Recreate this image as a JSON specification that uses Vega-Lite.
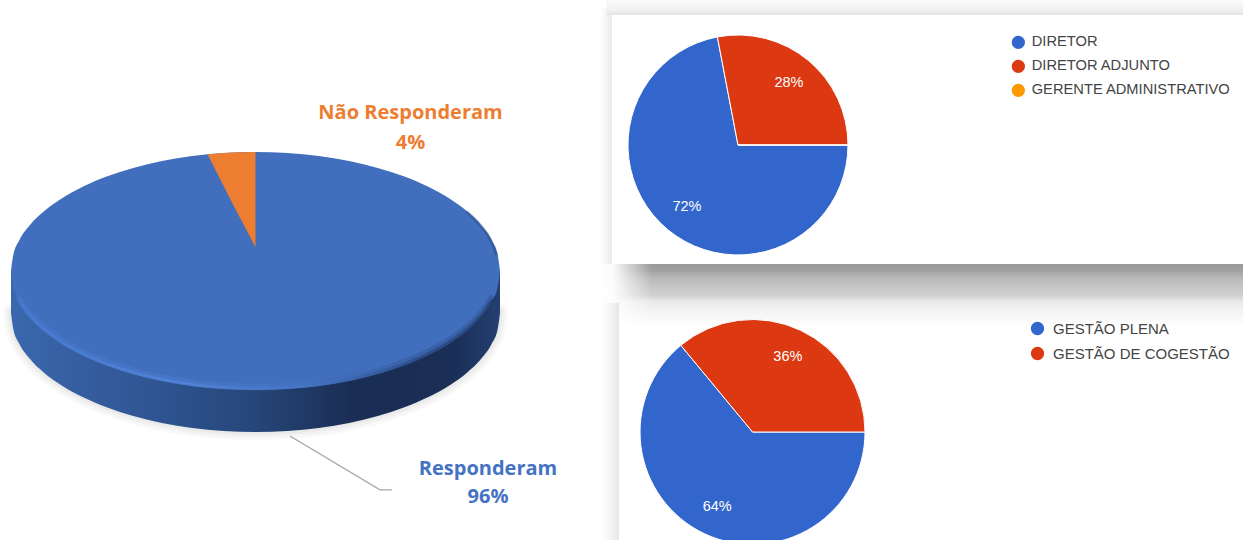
{"$schema":"https://vega.github.io/schema/vega-lite/v6.json","background":"white","padding":0,"spacing":0,"config":{"view":{"stroke":null},"concat":{"spacing":0}},
"resolve":{"scale":{"color":"independent"},"legend":{"color":"independent"}},
"datasets":{"rim":[
{"x":-1,"h":0,"n":0,"wall":-0.353,"z":0,"s":-0.3},{"x":-0.991,"h":0.131,"n":-0.131,"wall":-0.484,"z":0,"s":-0.3},{"x":-0.966,"h":0.259,"n":-0.259,"wall":-0.612,"z":0,"s":-0.3},{"x":-0.924,"h":0.383,"n":-0.383,"wall":-0.736,"z":0,"s":-0.3},{"x":-0.866,"h":0.5,"n":-0.5,"wall":-0.853,"z":0,"s":-0.3},{"x":-0.793,"h":0.609,"n":-0.609,"wall":-0.962,"z":0,"s":-0.3},{"x":-0.707,"h":0.707,"n":-0.707,"wall":-1.06,"z":0,"s":-0.3},{"x":-0.609,"h":0.793,"n":-0.793,"wall":-1.146,"z":0,"s":-0.3},{"x":-0.5,"h":0.866,"n":-0.866,"wall":-1.219,"z":0,"s":-0.3},{"x":-0.383,"h":0.924,"n":-0.924,"wall":-1.277,"z":0,"s":-0.3},{"x":-0.259,"h":0.966,"n":-0.966,"wall":-1.319,"z":0,"s":-0.3},{"x":-0.131,"h":0.991,"n":-0.991,"wall":-1.344,"z":0,"s":-0.3},{"x":0,"h":1,"n":-1,"wall":-1.353,"z":0,"s":-0.3},
{"x":0.131,"h":0.991,"n":-0.991,"wall":-1.344,"z":0,"s":-0.3},{"x":0.259,"h":0.966,"n":-0.966,"wall":-1.319,"z":0,"s":-0.3},{"x":0.383,"h":0.924,"n":-0.924,"wall":-1.277,"z":0,"s":-0.3},{"x":0.5,"h":0.866,"n":-0.866,"wall":-1.219,"z":0,"s":-0.3},{"x":0.609,"h":0.793,"n":-0.793,"wall":-1.146,"z":0,"s":-0.3},{"x":0.707,"h":0.707,"n":-0.707,"wall":-1.06,"z":0,"s":-0.3},{"x":0.793,"h":0.609,"n":-0.609,"wall":-0.962,"z":0,"s":-0.3},{"x":0.866,"h":0.5,"n":-0.5,"wall":-0.853,"z":0,"s":-0.3},{"x":0.924,"h":0.383,"n":-0.383,"wall":-0.736,"z":0,"s":-0.3},{"x":0.966,"h":0.259,"n":-0.259,"wall":-0.612,"z":0,"s":-0.3},{"x":0.991,"h":0.131,"n":-0.131,"wall":-0.484,"z":0,"s":-0.3},{"x":1,"h":0,"n":0,"wall":-0.353,"z":0,"s":-0.3}],
"wedge":[{"x":-0.196,"top":0.98,"low":0.98},{"x":-0.1,"top":0.995,"low":0.59},{"x":0,"top":1,"low":0.2}],
"leader":[{"x":0.141,"y":-1.387},{"x":0.509,"y":-1.84},{"x":0.558,"y":-1.84}],
"labels":[{"t":"Não Responderam","x":0.634,"y":1.328,"group":"Não Responderam"},{"t":"4%","x":0.634,"y":1.076,"group":"Não Responderam"},{"t":"Responderam","x":0.951,"y":-1.668,"group":"Responderam"},{"t":"96%","x":0.951,"y":-1.903,"group":"Responderam"}],
"cargo":[{"name":"DIRETOR","value":72,"mid":36,"label":"72%","rank":1},{"name":"DIRETOR ADJUNTO","value":28,"mid":86,"label":"28%","rank":2},{"name":"GERENTE ADMINISTRATIVO","value":0,"mid":100,"label":"","rank":3}],
"gestao":[{"name":"GESTÃO PLENA","value":64,"mid":32,"label":"64%","rank":1},{"name":"GESTÃO DE COGESTÃO","value":36,"mid":82,"label":"36%","rank":2}]},
"hconcat":[
{"width":600,"height":540,
"layer":[
{"data":{"name":"rim"},"mark":{"type":"area","interpolate":"monotone","fill":"#888","stroke":"#888","strokeWidth":16,"opacity":0.05,"strokeJoin":"round","yOffset":5},"encoding":{"x":{"field":"x","type":"quantitative","axis":null,"scale":{"domain":[-1.045,1.409],"nice":false,"zero":false}},"y":{"field":"s","type":"quantitative","axis":null,"scale":{"domain":[-2.261,2.277],"nice":false,"zero":false}},"y2":{"field":"wall"}}},
{"data":{"name":"rim"},"mark":{"type":"area","interpolate":"monotone","fill":"#888","stroke":"#888","strokeWidth":10,"opacity":0.06,"strokeJoin":"round","yOffset":5},"encoding":{"x":{"field":"x","type":"quantitative","axis":null},"y":{"field":"s","type":"quantitative","axis":null},"y2":{"field":"wall"}}},
{"data":{"name":"rim"},"mark":{"type":"area","interpolate":"monotone","fill":"#888","stroke":"#888","strokeWidth":5,"opacity":0.07,"strokeJoin":"round","yOffset":5},"encoding":{"x":{"field":"x","type":"quantitative","axis":null},"y":{"field":"s","type":"quantitative","axis":null},"y2":{"field":"wall"}}},
{"data":{"name":"rim"},"mark":{"type":"area","interpolate":"monotone","color":{"gradient":"linear","x1":0,"y1":0,"x2":1,"y2":0,"stops":[{"offset":0,"color":"#3a67ad"},{"offset":0.3,"color":"#2f5491"},{"offset":0.5,"color":"#264679"},{"offset":0.7,"color":"#1a2d54"},{"offset":0.9,"color":"#1a2e56"},{"offset":1,"color":"#243f70"}]}},"encoding":{"x":{"field":"x","type":"quantitative","axis":null},"y":{"field":"z","type":"quantitative","axis":null},"y2":{"field":"wall"}}},
{"data":{"name":"rim"},"mark":{"type":"area","interpolate":"monotone","color":"#416fbe"},"encoding":{"x":{"field":"x","type":"quantitative","axis":null},"y":{"field":"h","type":"quantitative","axis":null},"y2":{"field":"n"}}},
{"data":{"name":"rim"},"transform":[{"filter":"datum.x>0.85 && datum.x<1"}],"mark":{"type":"line","interpolate":"monotone","strokeWidth":3,"opacity":0.35,"xOffset":-1,"color":"#1f3a6c"},"encoding":{"x":{"field":"x","type":"quantitative","axis":null},"y":{"field":"h","type":"quantitative","axis":null}}},
{"data":{"name":"rim"},"transform":[{"filter":"datum.x>-0.98 && datum.x<0.98"}],"mark":{"type":"line","interpolate":"monotone","strokeWidth":7,"opacity":0.25,"yOffset":-3,"strokeCap":"round","stroke":{"gradient":"linear","x1":0,"y1":0,"x2":1,"y2":0,"stops":[{"offset":0,"color":"#4a80dc"},{"offset":0.35,"color":"#5a8ce4"},{"offset":0.6,"color":"#4a78c8"},{"offset":0.85,"color":"#1f3a6c"},{"offset":1,"color":"#1b3360"}]}},"encoding":{"x":{"field":"x","type":"quantitative","axis":null},"y":{"field":"n","type":"quantitative","axis":null}}},
{"data":{"name":"rim"},"transform":[{"filter":"datum.x>-0.98 && datum.x<0.98"}],"mark":{"type":"line","interpolate":"monotone","strokeWidth":3,"opacity":0.5,"yOffset":-1.5,"strokeCap":"round","stroke":{"gradient":"linear","x1":0,"y1":0,"x2":1,"y2":0,"stops":[{"offset":0,"color":"#4a80dc"},{"offset":0.35,"color":"#5a8ce4"},{"offset":0.6,"color":"#4a78c8"},{"offset":0.85,"color":"#1f3a6c"},{"offset":1,"color":"#1b3360"}]}},"encoding":{"x":{"field":"x","type":"quantitative","axis":null},"y":{"field":"n","type":"quantitative","axis":null}}},
{"data":{"name":"wedge"},"mark":{"type":"area","color":"#ed7d31"},"encoding":{"x":{"field":"x","type":"quantitative","axis":null},"y":{"field":"top","type":"quantitative","axis":null},"y2":{"field":"low"}}},
{"data":{"name":"leader"},"mark":{"type":"line","color":"#a6a6a6","strokeWidth":1.3},"encoding":{"x":{"field":"x","type":"quantitative","axis":null},"y":{"field":"y","type":"quantitative","axis":null}}},
{"data":{"name":"labels"},"mark":{"type":"text","font":"Open Sans","fontWeight":"bold","fontSize":20,"align":"center","baseline":"middle"},"encoding":{"x":{"field":"x","type":"quantitative","axis":null},"y":{"field":"y","type":"quantitative","axis":null},"text":{"field":"t","type":"nominal"},"color":{"field":"group","type":"nominal","legend":null,"scale":{"domain":["Não Responderam","Responderam"],"range":["#ed7d31","#4472c4"]}}}}
]},
{"resolve":{"scale":{"color":"independent"},"legend":{"color":"independent"}},"vconcat":[
{"width":643,"height":264,"layer":[
{"data":{"values":[{"x0":0,"x1":0.01866,"y0":0.03,"y1":1}]},"mark":{"type":"rect","color":{"gradient":"linear","x1":0,"y1":0,"x2":1,"y2":0,"stops":[{"offset":0,"color":"#ffffff"},{"offset":0.5,"color":"#f6f6f6"},{"offset":1,"color":"#e8e8e8"}]}},"encoding":{"x":{"field":"x0","type":"quantitative","axis":null,"scale":{"domain":[0,1],"nice":false,"zero":false}},"x2":{"field":"x1"},"y":{"field":"y0","type":"quantitative","axis":null,"scale":{"domain":[1,0],"nice":false,"zero":false}},"y2":{"field":"y1"}}},
{"data":{"values":[{"x0":0.01,"x1":1,"y0":0,"y1":0.0568}]},"mark":{"type":"rect","color":{"gradient":"linear","x1":0,"y1":0,"x2":0,"y2":1,"stops":[{"offset":0,"color":"#fbfbfb"},{"offset":0.7,"color":"#f0f0f0"},{"offset":1,"color":"#e4e4e4"}]}},"encoding":{"x":{"field":"x0","type":"quantitative","axis":null},"x2":{"field":"x1"},"y":{"field":"y0","type":"quantitative","axis":null},"y2":{"field":"y1"}}},
{"data":{"name":"cargo"},"transform":[{"stack":"value","sort":[{"field":"rank","order":"ascending"}],"as":["a","b"]}],"mark":{"type":"arc","outerRadius":110,"stroke":"white","strokeWidth":1},"encoding":{"x":{"datum":0.2146,"type":"quantitative","axis":null},"y":{"datum":0.5492,"type":"quantitative","axis":null},"theta":{"field":"a","type":"quantitative","stack":null,"scale":{"domain":[0,100],"range":[1.5708,7.854]}},"theta2":{"field":"b"},"color":{"field":"name","type":"nominal","scale":{"domain":["DIRETOR","DIRETOR ADJUNTO","GERENTE ADMINISTRATIVO"],"range":["#3366cc","#dc3912","#ff9900"]},"legend":{"orient":"none","legendX":411,"legendY":35,"title":null,"symbolType":"circle","symbolSize":177,"symbolStrokeWidth":0,"labelFont":"Liberation Sans","labelFontSize":14.7,"labelColor":"#444444","labelOffset":6,"rowPadding":8,"labelLimit":300}}}},
{"data":{"name":"cargo"},"mark":{"type":"text","radius":80,"color":"white","font":"Liberation Sans","fontSize":14.5,"align":"center","baseline":"middle"},"encoding":{"x":{"datum":0.2146,"type":"quantitative","axis":null},"y":{"datum":0.5492,"type":"quantitative","axis":null},"theta":{"field":"mid","type":"quantitative","stack":null},"text":{"field":"label","type":"nominal"}}}
]},
{"width":643,"height":276,"layer":[
{"data":{"values":[{"x0":0,"x1":1,"y0":0,"y1":0.228}]},"mark":{"type":"rect","color":{"gradient":"linear","x1":0,"y1":0,"x2":0,"y2":1,"stops":[{"offset":0,"color":"#999999"},{"offset":0.1,"color":"#a0a0a0"},{"offset":0.22,"color":"#b8b8b8"},{"offset":0.38,"color":"#c8c8c8"},{"offset":0.5,"color":"#d0d0d0"},{"offset":0.6,"color":"#eaeaea"},{"offset":0.75,"color":"#f3f3f3"},{"offset":1,"color":"#ffffff"}]}},"encoding":{"x":{"field":"x0","type":"quantitative","axis":null,"scale":{"domain":[0,1],"nice":false,"zero":false}},"x2":{"field":"x1"},"y":{"field":"y0","type":"quantitative","axis":null,"scale":{"domain":[1,0],"nice":false,"zero":false}},"y2":{"field":"y1"}}},
{"data":{"values":[{"x0":0,"x1":0.081,"y0":0,"y1":0.228}]},"mark":{"type":"rect","color":{"gradient":"linear","x1":0,"y1":0,"x2":1,"y2":0,"stops":[{"offset":0,"color":"#ffffff"},{"offset":0.25,"color":"rgba(255,255,255,0.95)"},{"offset":1,"color":"rgba(255,255,255,0)"}]}},"encoding":{"x":{"field":"x0","type":"quantitative","axis":null},"x2":{"field":"x1"},"y":{"field":"y0","type":"quantitative","axis":null},"y2":{"field":"y1"}}},
{"data":{"values":[{"x0":0,"x1":0.02955,"y0":0.14,"y1":1}]},"mark":{"type":"rect","color":{"gradient":"linear","x1":0,"y1":0,"x2":1,"y2":0,"stops":[{"offset":0,"color":"#ffffff"},{"offset":0.5,"color":"#f6f6f6"},{"offset":1,"color":"#e6e6e6"}]}},"encoding":{"x":{"field":"x0","type":"quantitative","axis":null},"x2":{"field":"x1"},"y":{"field":"y0","type":"quantitative","axis":null},"y2":{"field":"y1"}}},
{"data":{"name":"gestao"},"transform":[{"stack":"value","sort":[{"field":"rank","order":"ascending"}],"as":["a","b"]}],"mark":{"type":"arc","outerRadius":112.5,"stroke":"white","strokeWidth":1,"clip":true},"encoding":{"x":{"datum":0.2372,"type":"quantitative","axis":null},"y":{"datum":0.6087,"type":"quantitative","axis":null},"theta":{"field":"a","type":"quantitative","stack":null,"scale":{"domain":[0,100],"range":[1.5708,7.854]}},"theta2":{"field":"b"},"color":{"field":"name","type":"nominal","scale":{"domain":["GESTÃO PLENA","GESTÃO DE COGESTÃO"],"range":["#3366cc","#dc3912"]},"legend":{"orient":"none","legendX":430,"legendY":57,"title":null,"symbolType":"circle","symbolSize":177,"symbolStrokeWidth":0,"labelFont":"Liberation Sans","labelFontSize":15,"labelColor":"#444444","labelOffset":8,"rowPadding":9,"labelLimit":300}}}},
{"data":{"name":"gestao"},"mark":{"type":"text","radius":83,"color":"white","font":"Liberation Sans","fontSize":14.5,"align":"center","baseline":"middle"},"encoding":{"x":{"datum":0.2372,"type":"quantitative","axis":null},"y":{"datum":0.6087,"type":"quantitative","axis":null},"theta":{"field":"mid","type":"quantitative","stack":null},"text":{"field":"label","type":"nominal"}}}
]}
]}
]}
